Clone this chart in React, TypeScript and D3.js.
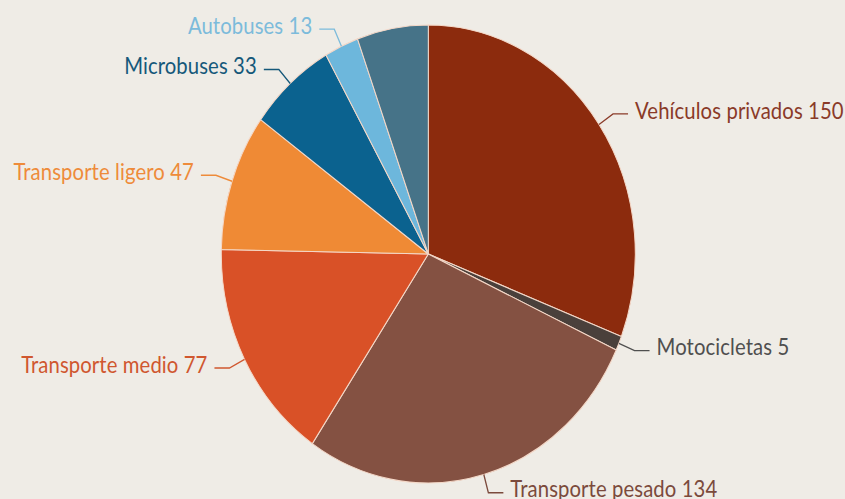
import React from "react";
import * as d3 from "d3";

const categories = [
  "Vehículos privados",
  "Motocicletas",
  "Transporte pesado",
  "Transporte medio",
  "Transporte ligero",
  "Microbuses",
  "Autobuses",
  "Otros",
];
const values = [150, 5, 134, 77, 47, 33, 13, 27];
const showLabel = [true, true, true, true, true, true, true, false];
const sliceColors = ["#8c2b0d", "#4a403b", "#845142", "#d95127", "#ef8a35", "#0b628f", "#6db7dc", "#467388"];
const labelColors = ["#8a3a28", "#4f4f4f", "#7b4a3c", "#d0572f", "#ee8b3a", "#15587a", "#7cbbdb", "#467388"];

const W = 845;
const H = 499;
const CX = 428.3;
const CY = 254;
const R = 207;
const SY = 1.106;

export default function App() {
  const data = categories.map((c, i) => ({ c, v: values[i], i }));
  const pie = d3.pie<any>().sort(null).value((d: any) => d.v);
  const arcs = pie(data);
  const arc = d3.arc<any>().innerRadius(0).outerRadius(R);

  return (
    <svg width={W} height={H} style={{ position: "absolute", left: 0, top: 0 }}>
      <rect width={W} height={H} fill="#efece6" />
      <g transform={`translate(${CX},${CY}) scale(1,${SY})`}>
        {arcs.map((a, k) => (
          <path key={k} d={arc(a) as string} fill={sliceColors[k]} stroke="#f4d8c8" strokeWidth={1} />
        ))}
        {arcs.map((a, k) => {
          if (!showLabel[k]) return null;
          const mid = (a.startAngle + a.endAngle) / 2;
          const p0 = [Math.sin(mid) * R, -Math.cos(mid) * R];
          const p1 = [Math.sin(mid) * (R + 17), -Math.cos(mid) * (R + 17)];
          const right = mid < Math.PI;
          const dir = right ? 1 : -1;
          const p2 = [p1[0] + dir * 15, p1[1]];
          const tx = p2[0] + dir * 7;
          return (
            <g key={"l" + k}>
              <polyline
                points={`${p0[0]},${p0[1]} ${p1[0]},${p1[1]} ${p2[0]},${p2[1]}`}
                fill="none"
                stroke={labelColors[k]}
                strokeWidth={1.3}
              />
              <text
                x={tx}
                y={p2[1] - 2.8}
                dy="0.35em"
                textAnchor={right ? "start" : "end"}
                fill={labelColors[k]}
                fontFamily="Lato, 'Open Sans', sans-serif"
                fontSize={20.3}
                letterSpacing={0.1}
              >
                {`${categories[k]} ${values[k]}`}
              </text>
            </g>
          );
        })}
      </g>
    </svg>
  );
}
